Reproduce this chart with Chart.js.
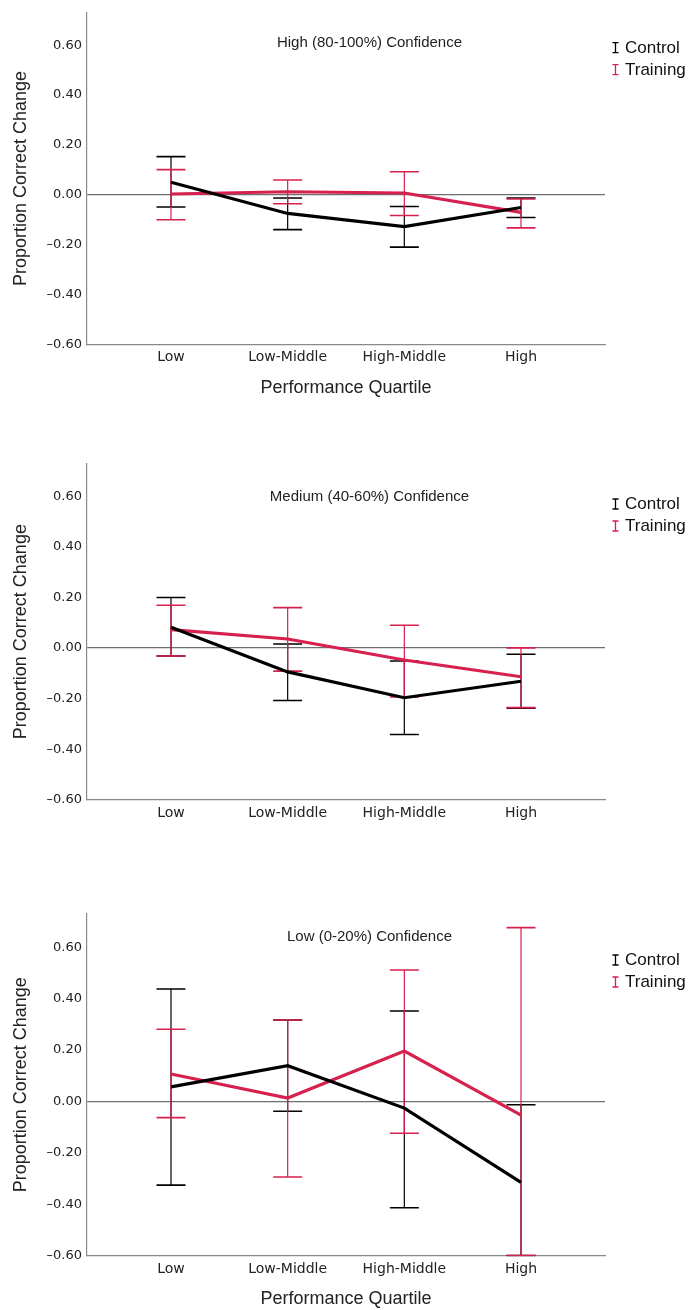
<!DOCTYPE html>
<html>
<head>
<meta charset="utf-8">
<script src="https://cdn.jsdelivr.net/npm/chart.js@4.4.1/dist/chart.umd.min.js"></script>
<style>
  body { margin: 0; background: #fff; }
  .panel { position: absolute; left: 0; width: 690px; }
</style>
</head>
<body>
<div class="panel" style="top:0;height:450px"><canvas id="c1"></canvas></div>
<div class="panel" style="top:450px;height:450px"><canvas id="c2"></canvas></div>
<div class="panel" style="top:900px;height:410px"><canvas id="c3"></canvas></div>
<script>
const categories = ['Low', 'Low-Middle', 'High-Middle', 'High'];
const groups = ['Control', 'Training'];
const yTicks = [-0.6, -0.4, -0.2, 0, 0.2, 0.4, 0.6];

// High (80-100%) confidence
const highControlMean = [0.05, -0.075, -0.128, -0.051];
const highControlLower = [-0.049, -0.14, -0.21, -0.091];
const highControlUpper = [0.153, -0.013, -0.047, -0.013];
const highTrainingMean = [0.003, 0.012, 0.007, -0.071];
const highTrainingLower = [-0.10, -0.036, -0.083, -0.133];
const highTrainingUpper = [0.101, 0.059, 0.092, -0.017];

// Medium (40-60%) confidence
const medControlMean = [0.082, -0.094, -0.196, -0.131];
const medControlLower = [-0.031, -0.207, -0.341, -0.237];
const medControlUpper = [0.20, 0.016, -0.051, -0.024];
const medTrainingMean = [0.073, 0.036, -0.047, -0.113];
const medTrainingLower = [-0.031, -0.091, -0.193, -0.235];
const medTrainingUpper = [0.169, 0.16, 0.09, 0.001];

// Low (0-20%) confidence
const lowControlMean = [0.057, 0.139, -0.026, -0.315];
const lowControlLower = [-0.326, -0.038, -0.414, -0.60];
const lowControlUpper = [0.438, 0.317, 0.352, -0.013];
const lowTrainingMean = [0.107, 0.013, 0.196, -0.053];
const lowTrainingLower = [-0.063, -0.294, -0.124, -0.60];
const lowTrainingUpper = [0.281, 0.317, 0.512, 0.677];

const colors = ['#000000', '#d6204e'];
const sans = "'Liberation Sans', Arial, sans-serif";
const tickFont = "'DejaVu Sans', sans-serif";

// error bars, panel title and legend
const extras = {
    id: 'extras',
    beforeDatasetsDraw(chart) {
        const { ctx, chartArea } = chart;
        const xs = chart.scales.x, ys = chart.scales.y;
        ctx.save();
        ctx.beginPath();
        ctx.rect(chartArea.left, chartArea.top - 1, chartArea.right - chartArea.left, chartArea.bottom - chartArea.top + 2);
        ctx.clip();
        chart.data.datasets.forEach(ds => {
            ctx.strokeStyle = ds.borderColor;
            ds.lower.forEach((lo, i) => {
                const x = xs.getPixelForValue(i);
                const y1 = ys.getPixelForValue(lo), y2 = ys.getPixelForValue(ds.upper[i]);
                ctx.lineWidth = 1.2;
                ctx.beginPath();
                ctx.moveTo(x, y1); ctx.lineTo(x, y2);
                ctx.stroke();
                ctx.lineWidth = 1.6;
                ctx.beginPath();
                ctx.moveTo(x - 14.5, y1); ctx.lineTo(x + 14.5, y1);
                ctx.moveTo(x - 14.5, y2); ctx.lineTo(x + 14.5, y2);
                ctx.stroke();
            });
        });
        ctx.restore();
    },
    afterDraw(chart) {
        const { ctx } = chart;
        const o = chart.options.plugins.extras;
        ctx.save();
        ctx.fillStyle = '#222';
        ctx.font = '15px ' + sans;
        ctx.textAlign = 'center';
        ctx.textBaseline = 'middle';
        ctx.fillText(o.title, 369.5, o.titleY);
        chart.data.datasets.forEach((ds, k) => {
            const y = o.legendY + k * 22;
            ctx.strokeStyle = ds.borderColor;
            ctx.lineWidth = 1.3;
            ctx.beginPath();
            ctx.moveTo(615.5, y - 5); ctx.lineTo(615.5, y + 5);
            ctx.moveTo(612.5, y - 5); ctx.lineTo(618.5, y - 5);
            ctx.moveTo(612.5, y + 5); ctx.lineTo(618.5, y + 5);
            ctx.stroke();
            ctx.fillStyle = '#111';
            ctx.font = '17px ' + sans;
            ctx.textAlign = 'left';
            ctx.fillText(ds.label, 625, y + 0.5);
        });
        ctx.restore();
    }
};

function makePanel(id, p) {
    const datasets = p.means.map((m, k) => ({
        label: groups[k],
        data: m.map((v, i) => ({ x: i, y: v })),
        lower: p.lowers[k],
        upper: p.uppers[k],
        borderColor: colors[k],
        borderWidth: 3.2,
        pointRadius: 0,
        tension: 0,
        fill: false
    }));
    return new Chart(document.getElementById(id), {
        type: 'line',
        data: { datasets },
        plugins: [extras],
        options: {
            responsive: true,
            maintainAspectRatio: false,
            animation: false,
            layout: { padding: { top: p.top, right: 85, left: 0, bottom: 0 } },
            plugins: {
                legend: { display: false },
                tooltip: { enabled: false },
                extras: { title: p.title, titleY: p.titleY, legendY: p.legendY }
            },
            scales: {
                x: {
                    type: 'linear',
                    min: -0.72,
                    max: 3.72,
                    afterFit: s => { s.height = p.xHeight; },
                    grid: { display: false, drawTicks: false },
                    border: { display: true, color: '#8a8a8a', width: 1.2 },
                    ticks: {
                        stepSize: 1,
                        includeBounds: false,
                        padding: 5,
                        color: '#222',
                        font: { family: tickFont, size: 14 },
                        callback: v => categories[v] ?? ''
                    },
                    title: {
                        display: p.xTitle,
                        text: 'Performance Quartile',
                        color: '#222',
                        font: { family: sans, size: 18 },
                        padding: { top: 0, bottom: p.xTitlePad }
                    }
                },
                y: {
                    min: -0.6,
                    max: 0.73,
                    afterBuildTicks: s => { s.ticks = yTicks.map(v => ({ value: v })); },
                    afterFit: s => { s.width = 87; },
                    grid: {
                        drawTicks: false,
                        lineWidth: 1.3,
                        color: c => Math.abs(c.tick.value) < 1e-9 ? '#6e6e6e' : 'rgba(0,0,0,0)'
                    },
                    border: { display: true, color: '#8a8a8a', width: 1.2 },
                    ticks: {
                        padding: 5,
                        color: '#222',
                        font: { family: tickFont, size: 13 },
                        callback: v => (v < 0 ? '\u2013' : '') + Math.abs(v).toFixed(2)
                    },
                    title: {
                        display: true,
                        text: 'Proportion Correct Change',
                        color: '#222',
                        font: { family: sans, size: 18 },
                        padding: { top: 10, bottom: 0 }
                    }
                }
            }
        }
    });
}

makePanel('c1', {
    title: 'High (80-100%) Confidence', titleY: 42.7, legendY: 47.7,
    top: 10.7, xHeight: 105.7, xTitle: true, xTitlePad: 51,
    means: [highControlMean, highTrainingMean],
    lowers: [highControlLower, highTrainingLower],
    uppers: [highControlUpper, highTrainingUpper]
});
makePanel('c2', {
    title: 'Medium (40-60%) Confidence', titleY: 46.7, legendY: 54,
    top: 13.3, xHeight: 100, xTitle: false, xTitlePad: 0,
    means: [medControlMean, medTrainingMean],
    lowers: [medControlLower, medTrainingLower],
    uppers: [medControlUpper, medTrainingUpper]
});
makePanel('c3', {
    title: 'Low (0-20%) Confidence', titleY: 36.7, legendY: 60,
    top: 14, xHeight: 54.5, xTitle: true, xTitlePad: 0,
    means: [lowControlMean, lowTrainingMean],
    lowers: [lowControlLower, lowTrainingLower],
    uppers: [lowControlUpper, lowTrainingUpper]
});
</script>
</body>
</html>
